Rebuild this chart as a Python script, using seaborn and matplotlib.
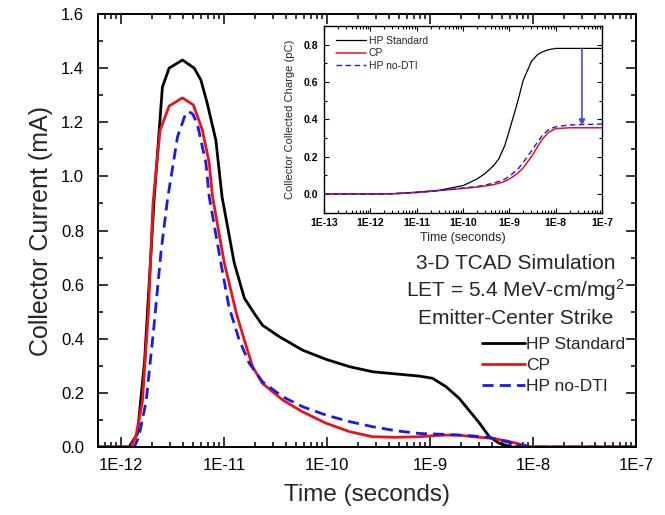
import numpy as np
import pandas as pd
import matplotlib
matplotlib.use("Agg")
import matplotlib.pyplot as plt
from matplotlib.ticker import FuncFormatter, LogLocator, MultipleLocator, FixedLocator, NullFormatter
import seaborn as sns

sns.set_style("ticks")
plt.rcParams["font.family"] = ["Liberation Sans", "DejaVu Sans"]
plt.rcParams["mathtext.fontset"] = "custom"
plt.rcParams["mathtext.rm"] = "Liberation Sans"
plt.rcParams["mathtext.default"] = "regular"

# ---------------- data: main plot (collector current, mA) ----------------
hp_t = [6e-13, 1.2e-12, 1.45e-12, 1.7e-12, 2.1e-12, 2.53e-12, 2.94e-12, 3.96e-12,
        5.15e-12, 5.98e-12, 6.89e-12, 8.35e-12, 9.6e-12, 1.26e-11, 1.58e-11, 2.0e-11,
        2.37e-11, 3.44e-11, 5.8e-11, 9.8e-11, 1.65e-10, 2.78e-10, 4.7e-10, 7.9e-10,
        1.06e-9, 1.43e-9, 1.92e-9, 2.24e-9, 3.0e-9, 3.77e-9, 4.7e-9, 6.3e-9, 1e-7]
hp_i = [0, 0, 0.05, 0.32, 0.913, 1.33, 1.40, 1.43,
        1.40, 1.356, 1.27, 1.134, 0.924, 0.68, 0.55, 0.49,
        0.45, 0.408, 0.358, 0.324, 0.297, 0.278, 0.27, 0.262,
        0.254, 0.223, 0.18, 0.149, 0.09, 0.038, 0.014, 0, 0]

cp_t = [6e-13, 1.25e-12, 1.4e-12, 1.62e-12, 1.85e-12, 2.05e-12, 2.4e-12, 2.94e-12,
        3.96e-12, 5.06e-12, 6.19e-12, 7.2e-12, 7.76e-12, 1.01e-11, 1.33e-11, 1.58e-11,
        1.9e-11, 2.37e-11, 3.71e-11, 5.8e-11, 9.8e-11, 1.65e-10, 2.78e-10, 4.7e-10,
        7.9e-10, 1.32e-9, 1.92e-9, 2.6e-9, 4.0e-9, 5.5e-9, 8.5e-9, 1e-8, 1e-7]
cp_i = [0, 0, 0.04, 0.17, 0.5, 0.9, 1.17, 1.26,
        1.29, 1.264, 1.17, 1.05, 0.925, 0.68, 0.49, 0.395,
        0.297, 0.235, 0.174, 0.13, 0.088, 0.057, 0.038, 0.036,
        0.038, 0.044, 0.044, 0.038, 0.032, 0.023, 0.005, 0, 0]

nd_t = [6e-13, 1.35e-12, 1.5e-12, 1.76e-12, 2.1e-12, 2.45e-12, 2.83e-12, 3.55e-12,
        4.21e-12, 4.53e-12, 5.0e-12, 5.55e-12, 6.69e-12, 7.2e-12, 9.35e-12, 1.12e-11,
        1.41e-11, 1.76e-11, 2.37e-11, 3.71e-11, 5.8e-11, 9.8e-11, 1.65e-10, 2.78e-10,
        4.7e-10, 7.9e-10, 1.32e-9, 1.92e-9, 2.6e-9, 3.77e-9, 5.5e-9, 7.4e-9, 1e-8, 1e-7]
nd_i = [0, 0, 0.04, 0.17, 0.45, 0.72, 0.913, 1.147,
        1.227, 1.24, 1.23, 1.19, 1.05, 0.925, 0.68, 0.518,
        0.395, 0.31, 0.241, 0.186, 0.149, 0.118, 0.094, 0.075,
        0.06, 0.05, 0.047, 0.044, 0.041, 0.035, 0.02, 0.007, 0, 0]

# ---------------- data: inset (collected charge, pC) ----------------
in_t = [1e-13, 1e-12, 3e-12, 1e-11, 3e-11, 1e-10, 2e-10, 3e-10, 4.5e-10, 6e-10, 8e-10,
        1e-9, 1.5e-9, 2e-9, 3e-9, 4e-9, 5e-9, 7e-9, 1e-8, 2e-8, 1e-7]
in_hp = [0, 0, 0.002, 0.01, 0.02, 0.045, 0.08, 0.11, 0.15, 0.19, 0.26,
         0.34, 0.49, 0.61, 0.71, 0.745, 0.76, 0.773, 0.78, 0.78, 0.78]
in_cp = [0, 0, 0.001, 0.008, 0.018, 0.03, 0.037, 0.043, 0.05, 0.058, 0.068,
         0.08, 0.11, 0.14, 0.2, 0.25, 0.29, 0.33, 0.35, 0.355, 0.355]
in_nd = [0, 0, 0.001, 0.008, 0.018, 0.032, 0.04, 0.048, 0.058, 0.068, 0.08,
         0.095, 0.13, 0.17, 0.23, 0.275, 0.31, 0.345, 0.36, 0.37, 0.375]

labels = ["HP Standard", "CP", "HP no-DTI"]
colors = ["black", "#e8141a", "#1a1ae6"]

xticks = [1e-12, 1e-11, 1e-10, 1e-9, 1e-8, 1e-7]
inset_xticks = [1e-13, 1e-12, 1e-11, 1e-10, 1e-9, 1e-8, 1e-7]

fmt = FuncFormatter(lambda v, p: "1E%d" % int(round(np.log10(v))))

fig = plt.figure(figsize=(6.65, 5.15), dpi=100)
ax = fig.add_axes([0.1474, 0.132, 0.809, 0.8408])

main_sets = [(hp_t, hp_i), (cp_t, cp_i), (nd_t, nd_i)]
styles = ["-", "-", (0, (4, 2.2))]
for (t, v), lab, c, ls in zip(main_sets, labels, colors, styles):
    df = pd.DataFrame({"t": t, "v": v})
    sns.lineplot(data=df, x="t", y="v", ax=ax, color=c, lw=2.0, label=lab,
                 estimator=None, sort=False)
    ax.lines[-1].set_linestyle(ls)

ax.set_xscale("log")
ax.set_xlim(6e-13, 1e-7)
ax.set_ylim(0, 1.6)
ax.xaxis.set_major_locator(FixedLocator(xticks))
ax.xaxis.set_major_formatter(fmt)
ax.xaxis.set_minor_locator(LogLocator(base=10, subs=np.arange(2, 10), numticks=20))
ax.xaxis.set_minor_formatter(NullFormatter())
ax.yaxis.set_major_locator(MultipleLocator(0.2))
ax.yaxis.set_minor_locator(MultipleLocator(0.1))
ax.yaxis.set_major_formatter(FuncFormatter(lambda v, p: "%.1f" % v))
ax.tick_params(which="both", direction="in", top=True, right=True, width=1.1, colors="black")
ax.tick_params(which="major", length=7, labelsize=12, pad=8)
ax.tick_params(which="minor", length=3.5)
ax.tick_params(axis="y", which="major", pad=10)
for s in ax.spines.values():
    s.set_linewidth(1.4)
    s.set_color("black")
ax.set_xlabel("Time (seconds)", fontsize=17.5, labelpad=8)
ax.set_ylabel("Collector Current (mA)", fontsize=18, labelpad=6)

leg = ax.legend(loc="upper left", bbox_to_anchor=(0.7, 0.27), frameon=False,
                fontsize=12.5, handlelength=2.5, handletextpad=0.05, labelspacing=0.33,
                borderaxespad=0)

fig.text(0.775, 0.489, "3-D TCAD Simulation", ha="center", va="center", fontsize=15)
fig.text(0.775, 0.436, "LET = 5.4 MeV-cm/mg$^{2}$", ha="center", va="center", fontsize=15)
fig.text(0.775, 0.382, "Emitter-Center Strike", ha="center", va="center", fontsize=15)

# ---------------- inset ----------------
axi = fig.add_axes([0.4872, 0.587, 0.418, 0.3625])
inset_sets = [in_hp, in_cp, in_nd]
in_styles = ["-", "-", (0, (4, 2.5))]
in_lw = [0.9, 1.1, 1.0]
for v, lab, c, ls, lw in zip(inset_sets, labels, colors, in_styles, in_lw):
    df = pd.DataFrame({"t": in_t, "v": v})
    sns.lineplot(data=df, x="t", y="v", ax=axi, color=c, lw=lw, label=lab,
                 estimator=None, sort=False)
    axi.lines[-1].set_linestyle(ls)

axi.set_xscale("log")
axi.set_xlim(1e-13, 1e-7)
axi.set_ylim(-0.1, 0.9)
axi.xaxis.set_major_locator(FixedLocator(inset_xticks))
axi.xaxis.set_major_formatter(fmt)
axi.xaxis.set_minor_locator(LogLocator(base=10, subs=np.arange(2, 10), numticks=20))
axi.xaxis.set_minor_formatter(NullFormatter())
axi.yaxis.set_major_locator(FixedLocator([0.0, 0.2, 0.4, 0.6, 0.8]))
axi.yaxis.set_minor_locator(MultipleLocator(0.1))
axi.yaxis.set_major_formatter(FuncFormatter(lambda v, p: "%.1f" % v))
axi.tick_params(which="both", direction="in", top=True, right=True, width=0.8, colors="black")
axi.tick_params(which="major", length=3.5, labelsize=7.5, pad=4)
axi.tick_params(which="minor", length=2)
for lbl in axi.get_xticklabels() + axi.get_yticklabels():
    lbl.set_fontweight("bold")
for s in axi.spines.values():
    s.set_linewidth(1.0)
    s.set_color("black")
axi.set_xlabel("Time (seconds)", fontsize=9, labelpad=3)
axi.set_ylabel("Collector Collected Charge (pC)", fontsize=8, labelpad=6)
axi.legend(loc="upper left", bbox_to_anchor=(0.03, 0.97), frameon=False, fontsize=7.5,
           handlelength=2.8, handletextpad=0.3, labelspacing=0.25, borderaxespad=0)

axi.annotate("", xy=(3.7e-8, 0.365), xytext=(3.7e-8, 0.78),
             arrowprops=dict(arrowstyle="-|>", color="#4a4ad8", lw=1.2, mutation_scale=9,
                             shrinkA=0, shrinkB=0))

fig.savefig("out.png", dpi=100)
